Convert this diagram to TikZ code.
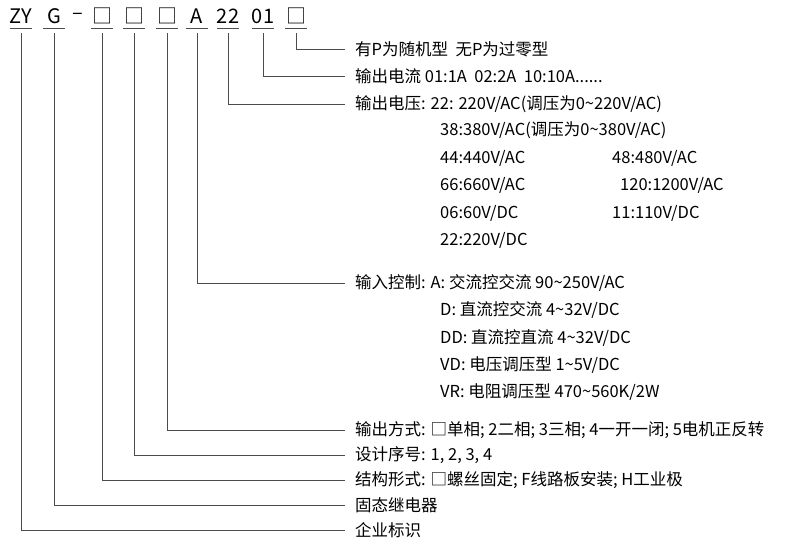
\documentclass[tikz,border=0pt]{standalone}
\usepackage{fontspec}
\setmainfont{Noto Sans CJK SC}
\usetikzlibrary{positioning}

\begin{document}
\begin{tikzpicture}[
    x=1pt, y=-1pt,
    font=\fontsize{16.5}{18}\selectfont,
    code/.style={inner sep=0pt, minimum height=24, anchor=center, font=\fontsize{20}{22}\selectfont},
    lab/.style={anchor=west, inner sep=0pt},
    lead/.style={draw=black!70, line width=0.8pt}
]
\useasboundingbox (0,0) rectangle (812,558);

% Model code
\node[code] (zy) at (21,16) {ZY};
\node[code] (g) at (54,16) {G};
\node[code] (dash) at (78,16) {–};
\node[code] (b1) at (102,16) {□};
\node[code] (b2) at (134,16) {□};
\node[code] (b3) at (167,16) {□};
\node[code] (a) at (197,16) {A};
\node[code] (v) at (228,16) {22};
\node[code] (i) at (263,16) {01};
\node[code] (p) at (296,16) {□};

% Labels
\node[lab] (lp) at (355,49) {有P为随机型\ \ 无P为过零型};
\node[lab] (li) at (355,76) {输出电流 01:1A\ \ 02:2A\ \ 10:10A......};
\node[lab] (lv) at (355,104) {输出电压: 22: 220V/AC(调压为0\textasciitilde220V/AC)};
\node[lab] (lv2) at (440,130) {38:380V/AC(调压为0\textasciitilde380V/AC)};
\node[lab] (lv3) at (440,158) {44:440V/AC};
\node[lab] (lv4) at (612,158) {48:480V/AC};
\node[lab] (lv5) at (440,185) {66:660V/AC};
\node[lab] (lv6) at (620,185) {120:1200V/AC};
\node[lab] (lv7) at (440,213) {06:60V/DC};
\node[lab] (lv8) at (612,213) {11:110V/DC};
\node[lab] (lv9) at (440,240) {22:220V/DC};
\node[lab] (la) at (355,283) {输入控制: A: 交流控交流 90\textasciitilde250V/AC};
\node[lab] (la2) at (440,310) {D: 直流控交流 4\textasciitilde32V/DC};
\node[lab] (la3) at (440,338) {DD: 直流控直流 4\textasciitilde32V/DC};
\node[lab] (la4) at (440,365) {VD: 电压调压型 1\textasciitilde5V/DC};
\node[lab] (la5) at (440,392) {VR: 电阻调压型 470\textasciitilde560K/2W};
\node[lab] (lb3) at (355,430) {输出方式: □单相; 2二相; 3三相; 4一开一闭; 5电机正反转};
\node[lab] (lb2) at (355,455) {设计序号: 1, 2, 3, 4};
\node[lab] (lb1) at (355,480) {结构形式: □螺丝固定;\ F线路板安装;\ H工业极};
\node[lab] (lg) at (355,505) {固态继电器};
\node[lab] (lzy) at (355,530) {企业标识};

% Underlines
\foreach \c in {zy,g,b1,b2,b3,a,v,i,p}
    \draw[lead] ([xshift=-11]\c.south) -- ([xshift=11]\c.south);

% Leaders
\draw[lead] ([yshift=-5]p.south) |- ([xshift=-10]lp.west);
\draw[lead] ([yshift=-5]i.south) |- ([xshift=-10]li.west);
\draw[lead] ([yshift=-5]v.south) |- ([xshift=-10]lv.west);
\draw[lead] ([yshift=-5]a.south) |- ([xshift=-10]la.west);
\draw[lead] ([yshift=-5]b3.south) |- ([xshift=-10]lb3.west);
\draw[lead] ([yshift=-5]b2.south) |- ([xshift=-10]lb2.west);
\draw[lead] ([yshift=-5]b1.south) |- ([xshift=-10]lb1.west);
\draw[lead] ([yshift=-5]g.south) |- ([xshift=-10]lg.west);
\draw[lead] ([yshift=-5]zy.south) |- ([xshift=-10]lzy.west);

\end{tikzpicture}
\end{document}
